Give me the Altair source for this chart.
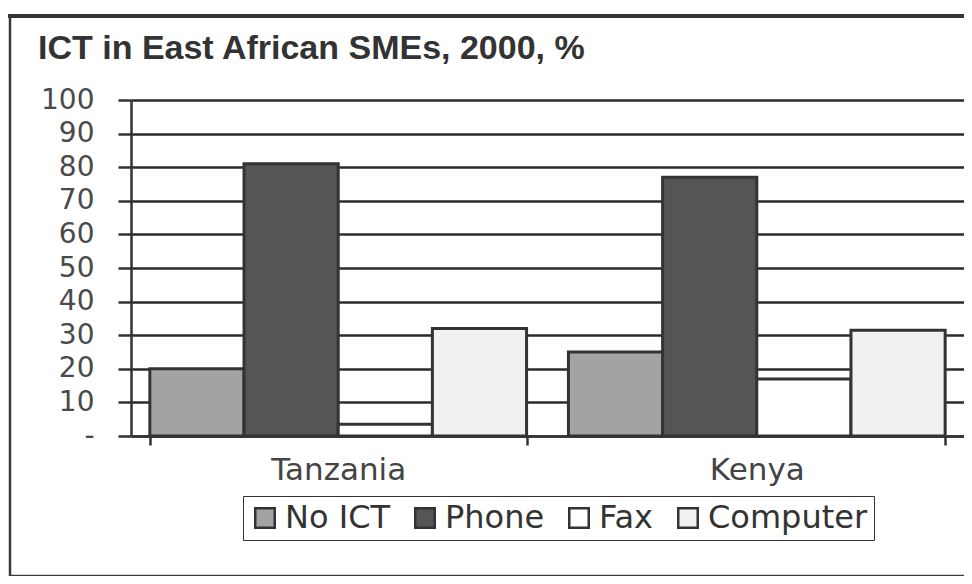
import altair as alt
import pandas as pd

countries = ["Tanzania", "Kenya"]
series = ["No ICT", "Phone", "Fax", "Computer"]
values_tanzania = [20, 81, 3.5, 32]
values_kenya = [25, 77, 17, 31.5]
y_ticks = [0, 10, 20, 30, 40, 50, 60, 70, 80, 90, 100]
colors = ["#a3a3a3", "#555555", "#ffffff", "#f1f1f1"]
title_text = "ICT in East African SMEs, 2000, %"

rows = []
for c, vals in zip(countries, [values_tanzania, values_kenya]):
    for s, v in zip(series, vals):
        rows.append({"country": c, "series": s, "value": v})
df = pd.DataFrame(rows)

dark = "#333333"

bars = alt.Chart(df).mark_bar(stroke=dark, strokeWidth=3).encode(
    x=alt.X(
        "country:N",
        sort=countries,
        scale=alt.Scale(paddingInner=0.1, paddingOuter=0.045),
        axis=alt.Axis(
            title=None, labelAngle=0, labelFont="DejaVu Sans", labelFontSize=31,
            labelColor="#444444", tickBand="extent", tickSize=9, tickColor=dark,
            tickWidth=2.5, domainColor=dark, domainWidth=2.5, labelPadding=10,
            grid=False,
        ),
    ),
    xOffset=alt.XOffset("series:N", sort=series,
                        scale=alt.Scale(paddingInner=0, paddingOuter=0)),
    y=alt.Y(
        "value:Q",
        scale=alt.Scale(domain=[0, 100], nice=False),
        axis=alt.Axis(
            title=None, values=y_ticks,
            labelExpr="datum.value == 0 ? '-' : datum.label",
            labelFont="DejaVu Sans", labelFontSize=28, labelColor="#4a4a4a",
            tickSize=13, tickColor=dark, tickWidth=2.5, labelPadding=24,
            domainColor=dark, domainWidth=2.5, grid=True, gridColor="#2b2b2b",
            gridWidth=2.5,
        ),
    ),
    color=alt.Color(
        "series:N", sort=series,
        scale=alt.Scale(domain=series, range=colors),
        legend=alt.Legend(
            title=None, orient="none", legendX=112, legendY=396,
            direction="horizontal", columns=4, strokeColor=dark, fillColor="white",
            padding=6, symbolType="square", symbolSize=380, symbolStrokeWidth=2.5,
            symbolStrokeColor=dark, symbolOpacity=1, labelFont="DejaVu Sans",
            labelFontSize=32, labelColor=dark, columnPadding=18, labelOffset=4,
            labelLimit=300,
        ),
    ),
)

one = alt.Data(values=[{"k": 1}])

frame = alt.Chart(one).mark_rect(fillOpacity=0, stroke="#3a3a3a", strokeWidth=2.5).encode(
    x=alt.value(-121), x2=alt.value(900), y=alt.value(-84), y2=alt.value(476)
)
top_rule = alt.Chart(one).mark_rule(stroke="#333333", strokeWidth=4).encode(
    x=alt.value(-131), x2=alt.value(900), y=alt.value(-84)
)
title = alt.Chart(one).mark_text(
    text=title_text, font="Liberation Sans", fontWeight="bold", fontSize=34,
    color="#333333", align="left", baseline="alphabetic",
).encode(x=alt.value(-93), y=alt.value(-41))

chart = alt.layer(frame, top_rule, title, bars).properties(
    width=833, height=336,
    autosize=alt.AutoSizeParams(type="none"),
    padding={"left": 123, "top": 92, "right": 0, "bottom": 140},
    background="white",
).configure_view(stroke=None)

chart.save("out.html", embed_options={"renderer": "svg", "actions": False})
